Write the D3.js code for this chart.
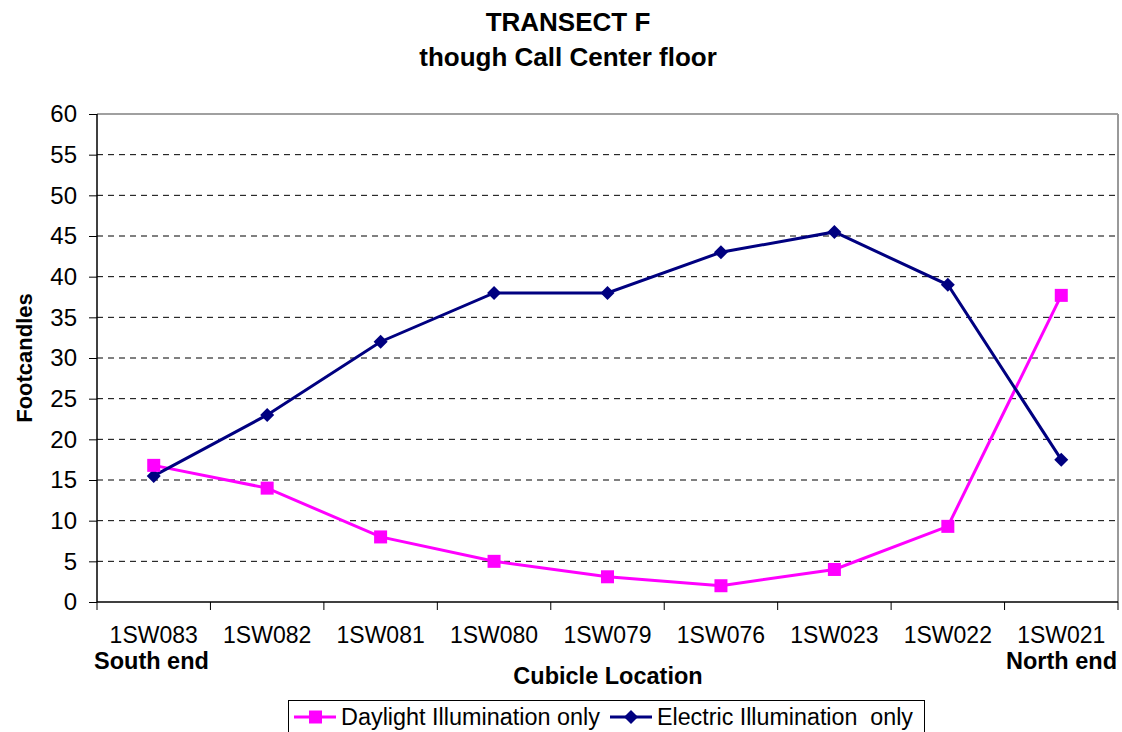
<!DOCTYPE html>
<html><head><meta charset="utf-8">
<script src="https://cdn.jsdelivr.net/npm/d3@7"></script>
<style>body{margin:0;background:#fff}svg{display:block;font-family:Arial,"Liberation Sans",sans-serif}</style>
</head><body><svg id="c" width="1122" height="732"></svg>
<script>
const categories=["1SW083","1SW082","1SW081","1SW080","1SW079","1SW076","1SW023","1SW022","1SW021"];
const daylight=[16.8,14,8,5,3.1,2,4,9.3,37.7];
const electric=[15.5,23,32,38,38,43,45.5,39,17.5];
const yTicks=[0,5,10,15,20,25,30,35,40,45,50,55,60];
const titleLines=["TRANSECT F","though Call Center floor"];

const svg=d3.select("#c");
const L=97,R=1118,T=114,B=602;
const x=d3.scaleBand().domain(categories).range([L,R]);
const y=d3.scaleLinear().domain([0,60]).range([B,T]);

// grid
svg.append("g").selectAll("line").data(yTicks.filter(d=>d>0&&d<60)).join("line")
 .attr("x1",L).attr("x2",R).attr("y1",d=>y(d)).attr("y2",d=>y(d))
 .attr("stroke","#000").attr("stroke-width",1).attr("stroke-dasharray","6,5");
// plot border
svg.append("line").attr("x1",L).attr("x2",R).attr("y1",T).attr("y2",T).attr("stroke","#808080").attr("stroke-width",1.5);
svg.append("line").attr("x1",R).attr("x2",R).attr("y1",T).attr("y2",B).attr("stroke","#999").attr("stroke-width",2);

// y axis
const ya=svg.append("g").attr("transform",`translate(${L},0)`)
 .call(d3.axisLeft(y).tickValues(yTicks).tickSize(8).tickPadding(12));
ya.select(".domain").attr("stroke","#000").attr("stroke-width",1.5).attr("d",`M0,${T}V${B}`);
ya.selectAll(".tick line").attr("stroke","#000");
ya.selectAll("text").attr("font-size",24).attr("fill","#000").attr("font-family","Arial,'Liberation Sans',sans-serif");

// x axis
const boundaries=d3.range(categories.length+1).map(i=>L+i*x.step());
svg.append("line").attr("x1",L).attr("x2",R).attr("y1",B).attr("y2",B).attr("stroke","#000").attr("stroke-width",1.5);
svg.append("g").selectAll("line").data(boundaries).join("line")
 .attr("x1",d=>d).attr("x2",d=>d).attr("y1",B).attr("y2",B+8).attr("stroke","#000");
svg.append("g").selectAll("text").data(categories).join("text")
 .attr("x",d=>x(d)+x.bandwidth()/2).attr("y",643).attr("text-anchor","middle")
 .attr("font-size",23).text(d=>d);
svg.append("text").attr("x",94).attr("y",669).attr("font-size",23.5).attr("font-weight","bold").text("South end");
svg.append("text").attr("x",1117).attr("y",669).attr("text-anchor","end").attr("font-size",23.5).attr("font-weight","bold").text("North end");
svg.append("text").attr("x",608).attr("y",684).attr("text-anchor","middle").attr("font-size",23.5).attr("font-weight","bold").text("Cubicle Location");
svg.append("text").attr("transform","translate(32,358) rotate(-90)").attr("text-anchor","middle").attr("font-size",22).attr("font-weight","bold").text("Footcandles");

// title
svg.append("g").selectAll("text").data(titleLines).join("text")
 .attr("x",568).attr("y",(d,i)=>31+i*35).attr("text-anchor","middle")
 .attr("font-size",26).attr("font-weight","bold").text(d=>d);

const cx=(d,i)=>x(categories[i])+x.bandwidth()/2;
const line=d3.line().x((d,i)=>cx(d,i)).y(d=>y(d));
const pink="#FF00FF", navy="#000080";
svg.append("path").datum(daylight).attr("d",line).attr("fill","none").attr("stroke",pink).attr("stroke-width",3);
svg.append("path").datum(electric).attr("d",line).attr("fill","none").attr("stroke",navy).attr("stroke-width",3);
svg.append("g").selectAll("path").data(electric).join("path")
 .attr("transform",(d,i)=>`translate(${cx(d,i)},${y(d)})`)
 .attr("d","M0,-7L7,0L0,7L-7,0Z").attr("fill",navy);
svg.append("g").selectAll("rect").data(daylight).join("rect")
 .attr("x",(d,i)=>cx(d,i)-6.5).attr("y",d=>y(d)-6.5).attr("width",13).attr("height",13).attr("fill",pink);

// legend
const lg=svg.append("g");
lg.append("rect").attr("x",288.5).attr("y",700.5).attr("width",636).attr("height",40).attr("fill","#fff").attr("stroke","#000");
const items=[{n:"Daylight Illumination only",c:pink,s:"sq",x:294,w:259},{n:"Electric Illumination  only",c:navy,s:"dm",x:610,w:256}];
items.forEach(it=>{
 lg.append("line").attr("x1",it.x).attr("x2",it.x+42).attr("y1",717).attr("y2",717).attr("stroke",it.c).attr("stroke-width",3);
 if(it.s==="sq") lg.append("rect").attr("x",it.x+15).attr("y",710.5).attr("width",13).attr("height",13).attr("fill",it.c);
 else lg.append("path").attr("transform",`translate(${it.x+21},717)`).attr("d","M0,-7L7,0L0,7L-7,0Z").attr("fill",it.c);
 lg.append("text").attr("x",it.x+47).attr("y",725).attr("font-size",23).attr("textLength",it.w).attr("lengthAdjust","spacingAndGlyphs").attr("xml:space","preserve").text(it.n);
});
</script></body></html>
